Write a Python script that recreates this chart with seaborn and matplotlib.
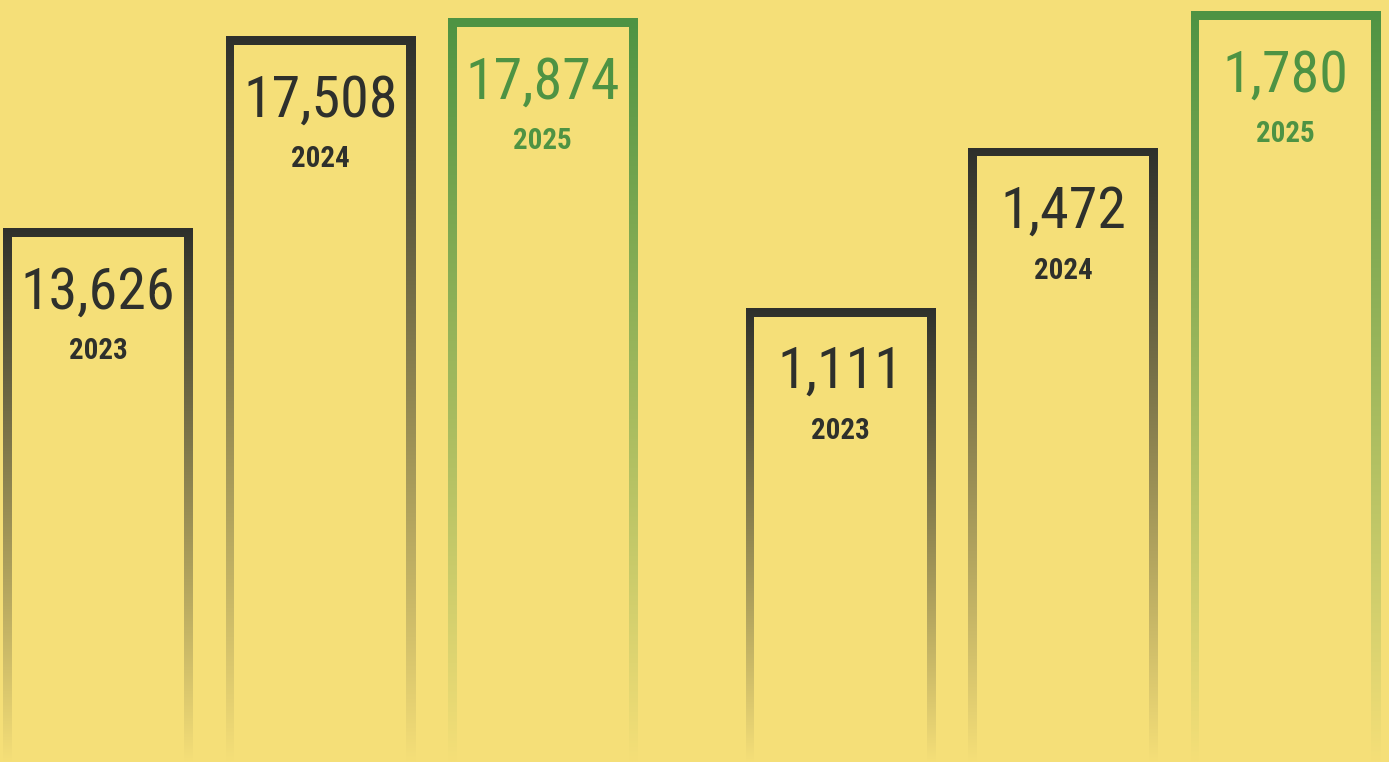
import numpy as np
import pandas as pd
import matplotlib
matplotlib.use("Agg")
import matplotlib.pyplot as plt
import matplotlib.colors as mcolors
from matplotlib import font_manager as fm
from matplotlib.patches import Rectangle
import seaborn as sns

# data
years = ["2023", "2024", "2025"]
group_a = [13626, 17508, 17874]
group_b = [1111, 1472, 1780]

BG = "#F5DF78"
DARK = "#2E302C"
GREEN = "#4E9343"
BORDER = 8.5  # px

sns.set_theme(style="white")
plt.rcParams["font.family"] = ["Roboto", "DejaVu Sans"]


def pick_font(bold):
    # look for any narrow face installed, the original uses a DIN-like condensed font
    want = ["robotocondensed", "notosans-condensed", "dejavusanscondensed",
            "liberationsansnarrow", "opensans-condensed", "opensanscondensed"]
    fonts = fm.fontManager.ttflist
    for key in want:
        for f in fonts:
            fn = f.fname.lower().replace("_", "").split("/")[-1]
            if not fn.startswith(key):
                continue
            isbold = f.weight in ("bold", 700)
            if isbold != bold or f.style != "normal":
                continue
            return fm.FontProperties(fname=f.fname), True
    return fm.FontProperties(family=["Roboto", "DejaVu Sans"],
                             weight="bold" if bold else "normal"), False


num_font, num_narrow = pick_font(False)
year_font, year_narrow = pick_font(True)
num_font.set_size(58 if num_narrow else 51)
year_font.set_size(29 if year_narrow else 25)

DPI = 72
fig = plt.figure(figsize=(1389 / DPI, 762 / DPI), dpi=DPI, facecolor=BG)

ax_a = fig.add_axes([0, 0, 690 / 1389, 1])
ax_b = fig.add_axes([690 / 1389, 0, 699 / 1389, 1])


def draw_group(ax, values, xlim, ylim):
    df = pd.DataFrame({"year": years, "value": values})
    sns.barplot(data=df, x="year", y="value", ax=ax, width=0.85, color=DARK)
    ax.set_xlim(*xlim)
    ax.set_ylim(*ylim)
    ax.set_axis_off()
    ax.set_facecolor(BG)

    bg = np.array(mcolors.to_rgb(BG))
    for i, (patch, val) in enumerate(zip(ax.patches, values)):
        col = GREEN if i == len(values) - 1 else DARK
        top = np.array(mcolors.to_rgb(col))
        x0, w, h = patch.get_x(), patch.get_width(), patch.get_height()
        patch.set_facecolor("none")
        patch.set_edgecolor("none")

        # vertical fade from the bar colour at the top to the background at the bottom
        t = np.linspace(0, 1, 256)[:, None]
        grad = (top * (1 - t) + bg * t)[:, None, :]
        im = ax.imshow(grad, extent=(x0, x0 + w, ylim[0], h), origin="upper",
                       aspect="auto", interpolation="bilinear", zorder=2)
        im.set_clip_path(patch)

        # hollow out the inside
        (lx, ty) = ax.transData.transform((x0, h))
        (rx, by) = ax.transData.transform((x0 + w, ylim[0]))
        inv = ax.transData.inverted()
        ix0, iy1 = inv.transform((lx + BORDER, ty - BORDER))
        ix1, iy0 = inv.transform((rx - BORDER, by - 50))
        ax.add_patch(Rectangle((ix0, iy0), ix1 - ix0, iy1 - iy0,
                               facecolor=BG, edgecolor="none", zorder=3))

        xc = x0 + w / 2
        ax.annotate(f"{val:,}", xy=(xc, h), xytext=(0, -80), textcoords="offset points",
                    ha="center", va="baseline", fontproperties=num_font, color=col, zorder=4)
        ax.annotate(years[i], xy=(xc, h), xytext=(0, -131), textcoords="offset points",
                    ha="center", va="baseline", fontproperties=year_font,
                    color=col, zorder=4)


draw_group(ax_a, group_a, (-0.4406, 2.662), (2837, 18243))
draw_group(ax_b, group_b, (-0.6767, 2.466), (87.9, 1805.3))

fig.savefig("out.png", dpi=DPI, facecolor=BG)
